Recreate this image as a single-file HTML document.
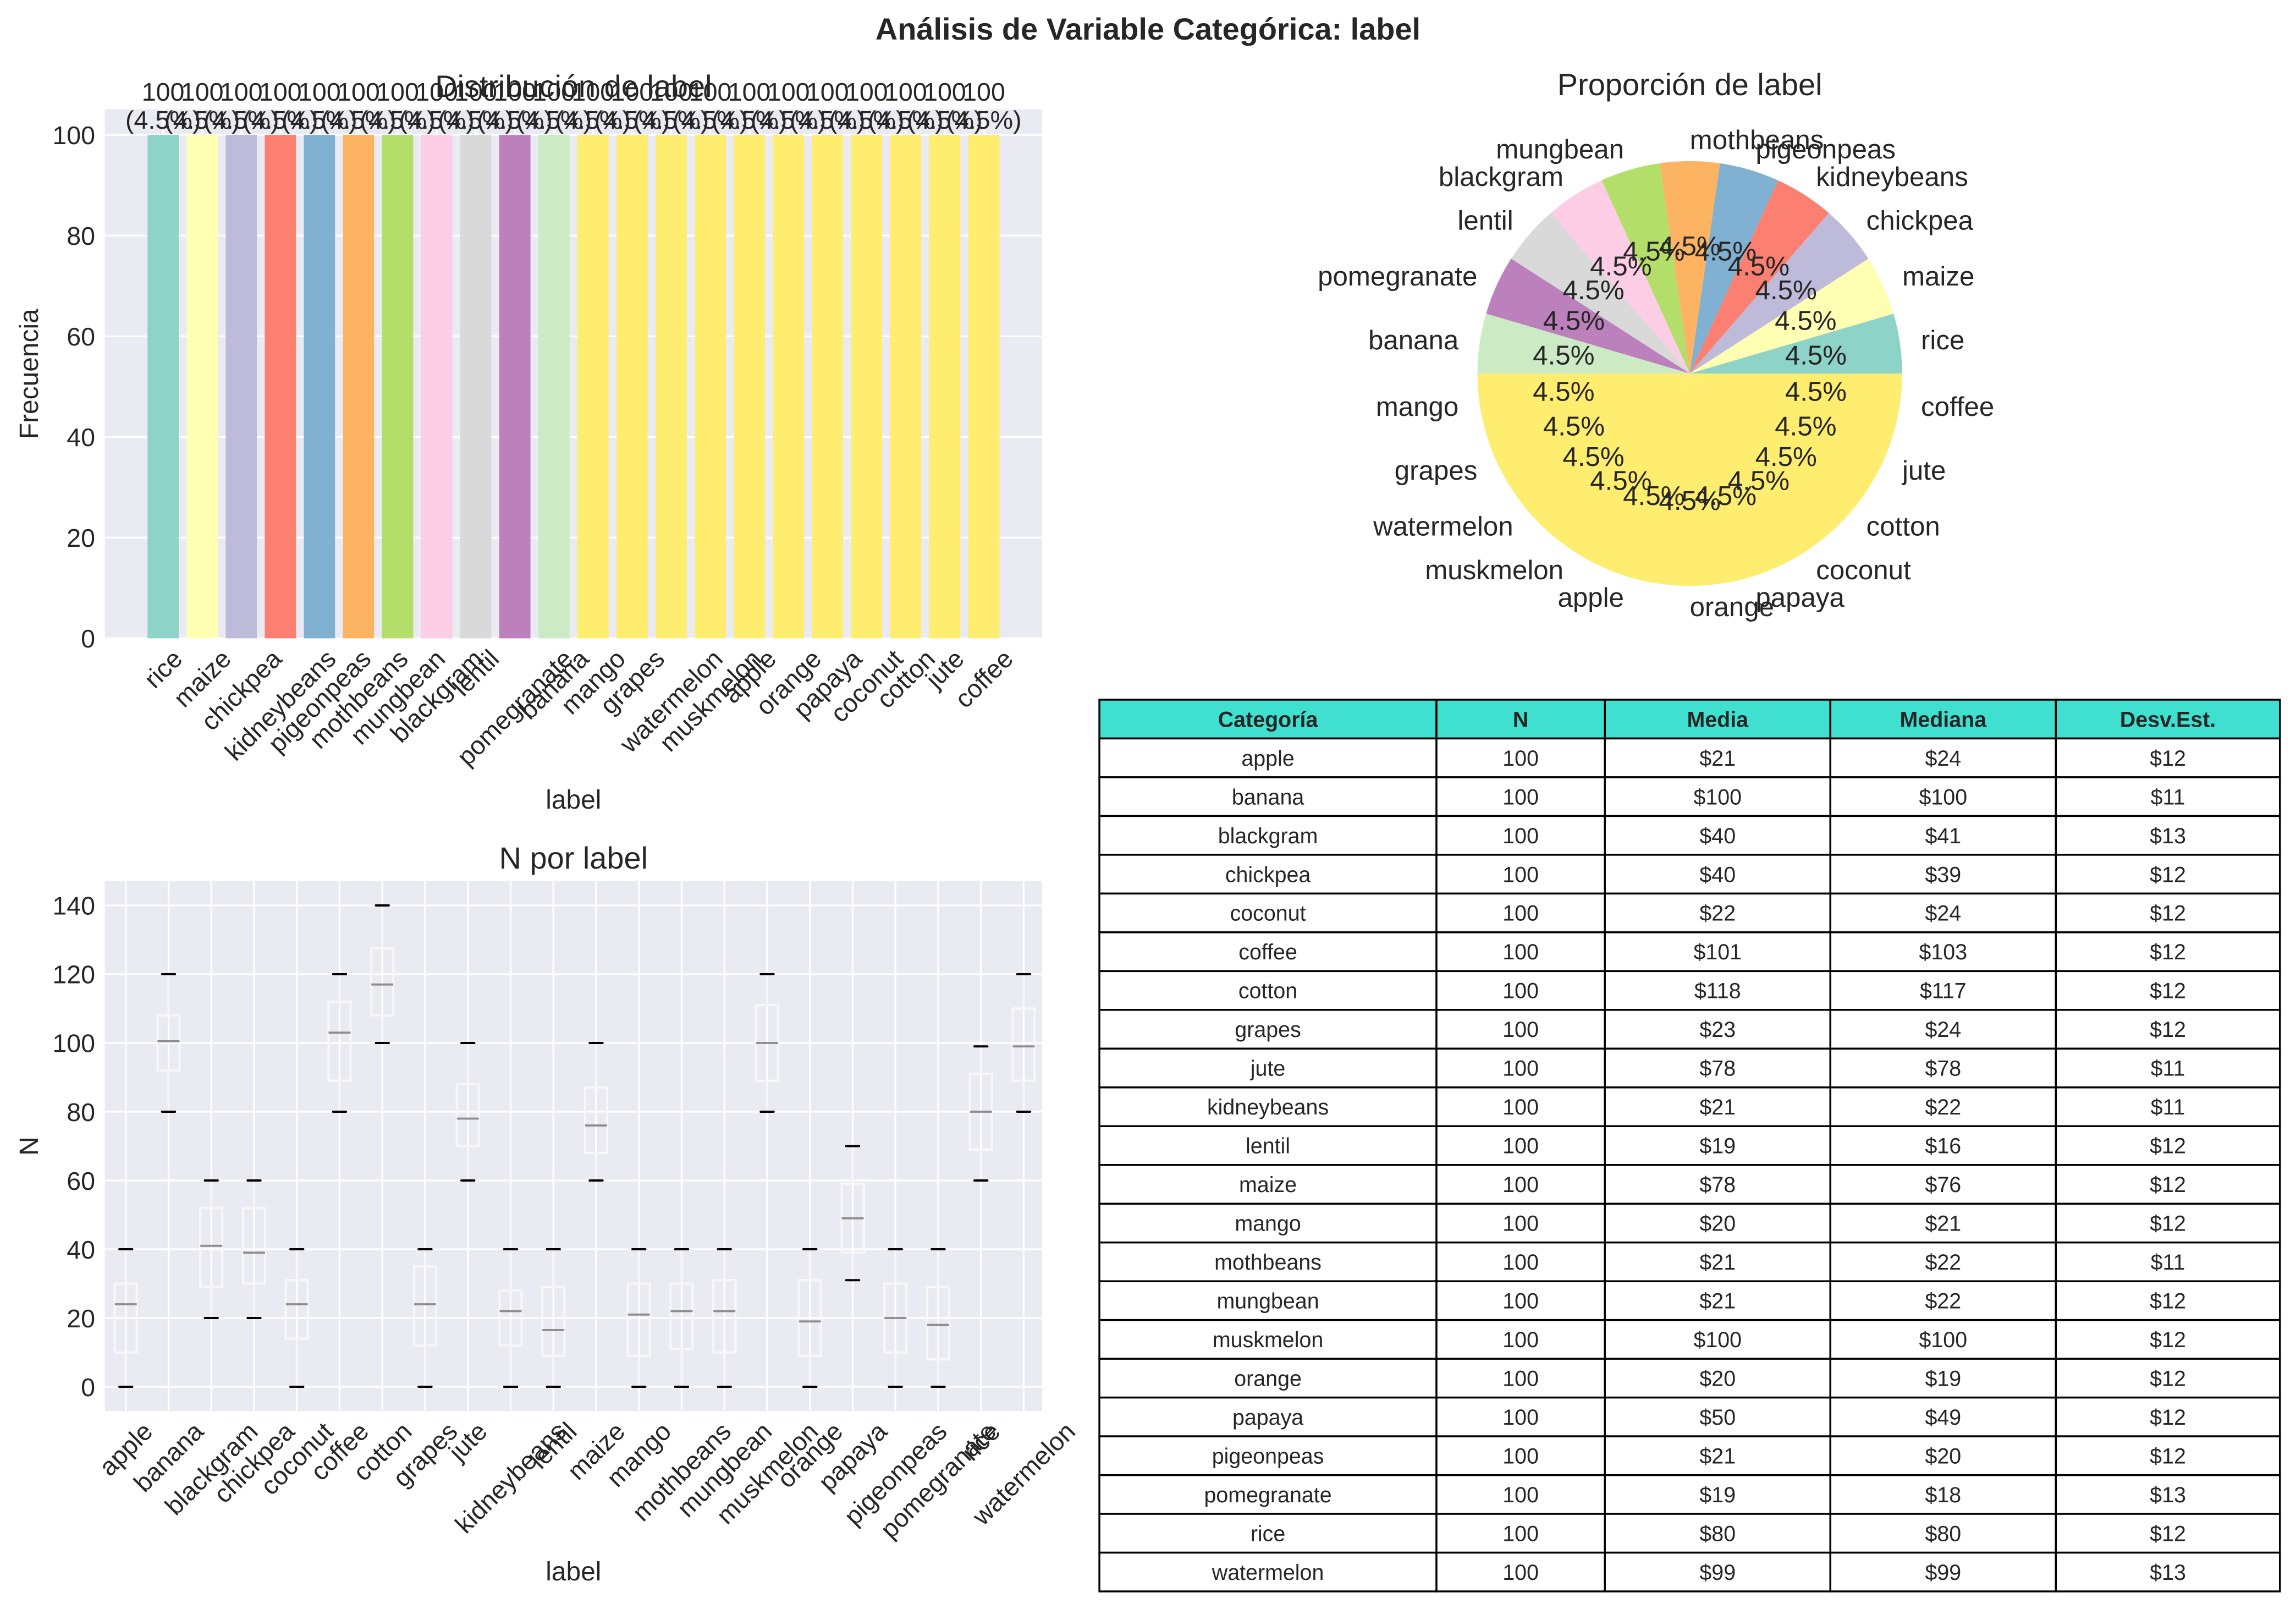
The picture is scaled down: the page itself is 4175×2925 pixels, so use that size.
<!DOCTYPE html>
<html><head><meta charset="utf-8"><style>
html,body{margin:0;padding:0;background:#fff;}
svg{display:block;}
text{font-family:"Liberation Sans",sans-serif;fill:#262626;}
</style></head><body>
<svg id="fig" xmlns="http://www.w3.org/2000/svg" width="4175" height="2925" viewBox="0 0 1568 1098.5">
<rect x="0" y="0" width="1568" height="1098.5" fill="#fff"/>
<text x="784" y="27" text-anchor="middle" font-size="21" font-weight="bold">Análisis de Variable Categórica: label</text>
<g id="bar"></g>
<g id="pie"></g>
<g id="box"></g>
<g id="tbl"></g>
</svg>
<script>
// ---- Bar chart data ----
const barCats = ["rice","maize","chickpea","kidneybeans","pigeonpeas","mothbeans","mungbean","blackgram","lentil","pomegranate","banana","mango","grapes","watermelon","muskmelon","apple","orange","papaya","coconut","cotton","jute","coffee"];
const barCounts = [100,100,100,100,100,100,100,100,100,100,100,100,100,100,100,100,100,100,100,100,100,100];
const barPct = ["4.5%","4.5%","4.5%","4.5%","4.5%","4.5%","4.5%","4.5%","4.5%","4.5%","4.5%","4.5%","4.5%","4.5%","4.5%","4.5%","4.5%","4.5%","4.5%","4.5%","4.5%","4.5%"];
const barTicks = [0,20,40,60,80,100];
const palette = ["#8dd3c7","#ffffb3","#bebada","#fb8072","#80b1d3","#fdb462","#b3de69","#fccde5","#d9d9d9","#bc80bd","#ccebc5","#ffed6f"];
// ---- Pie data (same order) ----
const pieValues = [100,100,100,100,100,100,100,100,100,100,100,100,100,100,100,100,100,100,100,100,100,100];
// ---- Box plot data ----
const boxCats = ["apple","banana","blackgram","chickpea","coconut","coffee","cotton","grapes","jute","kidneybeans","lentil","maize","mango","mothbeans","mungbean","muskmelon","orange","papaya","pigeonpeas","pomegranate","rice","watermelon"];
const boxQ1 = [10,92,29,30,14,89,108,12,70,12,9,68,9,11,10,89,9,39,10,8,69,89];
const boxMed = [24,100.5,41,39,24,103,117,24,78,22,16.5,76,21,22,22,100,19,49,20,18,80,99];
const boxQ3 = [30,108,52,52,31,112,127.5,35,88,28,29,87,30,30,31,111,31,59,30,29,91,110];
const boxLo = [0,80,20,20,0,80,100,0,60,0,0,60,0,0,0,80,0,31,0,0,60,80];
const boxHi = [40,120,60,60,40,120,140,40,100,40,40,100,40,40,40,120,40,70,40,40,99,120];
const boxTicks = [0,20,40,60,80,100,120,140];
// ---- Table data ----
const tblHeaders = ["Categoría","N","Media","Mediana","Desv.Est."];
const tblCats = boxCats;
const tblN = [100,100,100,100,100,100,100,100,100,100,100,100,100,100,100,100,100,100,100,100,100,100];
const tblMean = [21,100,40,40,22,101,118,23,78,21,19,78,20,21,21,100,20,50,21,19,80,99];
const tblMedian = [24,100,41,39,24,103,117,24,78,22,16,76,21,22,22,100,19,49,20,18,80,99];
const tblStd = [12,11,13,12,12,12,12,12,11,11,12,12,12,11,12,12,12,12,12,13,12,13];

const NS = "http://www.w3.org/2000/svg";
function mk(parent, tag, attrs, txt){
  const e = document.createElementNS(NS, tag);
  for (const k in attrs) e.setAttribute(k, attrs[k]);
  if (txt !== undefined) e.textContent = txt;
  parent.appendChild(e);
  return e;
}
function rotLabel(g, txt, x, yTop, fs, name){
  const t = mk(g, "text", {"font-size":fs, "text-anchor":"middle", "dominant-baseline":"central"}, txt);
  
  
  const w = t.getComputedTextLength();
  const h = (w + fs*0.95) * 0.7071;
  t.setAttribute("transform", `translate(${x},${yTop + h/2}) rotate(-45)`);
}

// ===== BAR CHART =====
(function(){
  const g = document.getElementById("bar");
  const L=71.6, R=711.7, T=74.7, B=435.8, ymax=105.06;
  const n = barCats.length;
  const xs = i => 111.4 + i*(671.9-111.4)/(n-1);
  const ys = v => B - v*(B-T)/ymax;
  const bw = 21.3;
  mk(g,"rect",{x:L,y:T,width:R-L,height:B-T,fill:"#eaeaf2"});
  barTicks.forEach(v=>{
    const l = mk(g,"line",{x1:L,x2:R,y1:ys(v),y2:ys(v),stroke:"#fff","stroke-width":1.2});
    
    
    const t = mk(g,"text",{x:65,y:ys(v)+6.3,"text-anchor":"end","font-size":17.5},String(v));
    
    
  });
  barCats.forEach((c,i)=>{
    mk(g,"line",{x1:xs(i),x2:xs(i),y1:T,y2:B,stroke:"#fff","stroke-width":1.2});
  });
  barCats.forEach((c,i)=>{
    const r = mk(g,"rect",{x:xs(i)-bw/2,y:ys(barCounts[i]),width:bw,height:B-ys(barCounts[i]),fill:palette[Math.min(i,11)]});
    
    
  });
  const ti = mk(g,"text",{x:(L+R)/2,y:66,"text-anchor":"middle","font-size":21},"Distribución de label");
  
  
  barCats.forEach((c,i)=>{
    const yb = ys(barCounts[i]);
    const t1 = mk(g,"text",{x:xs(i),y:yb-23.3,"text-anchor":"middle","font-size":17.5},String(barCounts[i]));
    
    
    const t2 = mk(g,"text",{x:xs(i),y:yb-4.3,"text-anchor":"middle","font-size":17.5},"("+barPct[i]+")");
    
    
    rotLabel(g, c, xs(i), B+5, 17.5, 'bar-x-tick-label');
  });
  const xl = mk(g,"text",{x:(L+R)/2,y:552,"text-anchor":"middle","font-size":18},"label");
  
  
  const yl = mk(g,"text",{x:0,y:0,"text-anchor":"middle","font-size":18,transform:`translate(26,${(T+B)/2}) rotate(-90)`},"Frecuencia");
  
  
})();

// ===== PIE CHART =====
(function(){
  const g = document.getElementById("pie");
  const cx=1154, cy=255, r=145;
  const total = pieValues.reduce((a,b)=>a+b,0);
  let a0 = 0;
  const pt = (ang, rr) => [cx + rr*Math.cos(ang*Math.PI/180), cy - rr*Math.sin(ang*Math.PI/180)];
  pieValues.forEach((v,i)=>{
    const span = v/total*360;
    const a1 = a0 + span;
    const p0 = pt(a0,r), p1 = pt(a1,r);
    const large = span>180?1:0;
    const p = mk(g,"path",{d:`M${cx},${cy} L${p0[0]},${p0[1]} A${r},${r} 0 ${large} 0 ${p1[0]},${p1[1]} Z`,fill:palette[Math.min(i,11)]});
    
    
    a0 = a1;
  });
  a0 = 0;
  pieValues.forEach((v,i)=>{
    const span = v/total*360;
    const mid = a0 + span/2;
    const lp = pt(mid, r*1.1);
    const cosm = Math.cos(mid*Math.PI/180);
    const lt = mk(g,"text",{x:lp[0],y:lp[1],"text-anchor":cosm>=0?"start":"end","dominant-baseline":"central","font-size":18.5},barCats[i]);
    
    
    const pp = pt(mid, r*0.6);
    const pc = mk(g,"text",{x:pp[0],y:pp[1],"text-anchor":"middle","dominant-baseline":"central","font-size":18.5},(v/total*100).toFixed(1)+"%");
    
    
    a0 += span;
  });
  const ti = mk(g,"text",{x:cx,y:65,"text-anchor":"middle","font-size":21},"Proporción de label");
  
  
})();

// ===== BOX PLOT =====
(function(){
  const g = document.getElementById("box");
  const L=71.6, R=711.7, T=601.6, B=963.3;
  const y0=946.8, k=2.3475;
  const ys = v => y0 - v*k;
  const n = boxCats.length;
  const xs = i => 85.9 + i*29.2;
  mk(g,"rect",{x:L,y:T,width:R-L,height:B-T,fill:"#eaeaf2"});
  boxTicks.forEach(v=>{
    const l = mk(g,"line",{x1:L,x2:R,y1:ys(v),y2:ys(v),stroke:"#fff","stroke-width":1.2});
    
    
    const t = mk(g,"text",{x:65,y:ys(v)+6.3,"text-anchor":"end","font-size":17.5},String(v));
    
    
  });
  boxCats.forEach((c,i)=>{
    mk(g,"line",{x1:xs(i),x2:xs(i),y1:T,y2:B,stroke:"#fff","stroke-width":1.2});
  });
  const bw=15, cw=8.8;
  boxCats.forEach((c,i)=>{
    const x = xs(i);
    const gg = mk(g,"g",{});
    
    
    mk(gg,"line",{x1:x,x2:x,y1:ys(boxHi[i]),y2:ys(boxQ3[i]),stroke:"#f7f7f7","stroke-width":1.5});
    mk(gg,"line",{x1:x,x2:x,y1:ys(boxQ1[i]),y2:ys(boxLo[i]),stroke:"#f7f7f7","stroke-width":1.5});
    mk(gg,"rect",{x:x-bw/2,y:ys(boxQ3[i]),width:bw,height:ys(boxQ1[i])-ys(boxQ3[i]),fill:"none",stroke:"#f7f7f7","stroke-width":1.6});
    mk(gg,"line",{x1:x-bw/2,x2:x+bw/2,y1:ys(boxMed[i]),y2:ys(boxMed[i]),stroke:"#8c8c8c","stroke-width":1.4});
    mk(gg,"line",{x1:x-cw/2,x2:x+cw/2,y1:ys(boxHi[i]),y2:ys(boxHi[i]),stroke:"#000","stroke-width":1.5,"stroke-linecap":"round"});
    mk(gg,"line",{x1:x-cw/2,x2:x+cw/2,y1:ys(boxLo[i]),y2:ys(boxLo[i]),stroke:"#000","stroke-width":1.5,"stroke-linecap":"round"});
    rotLabel(g, c, x, B+5, 17.5, 'box-x-tick-label');
  });
  const ti = mk(g,"text",{x:(L+R)/2,y:593,"text-anchor":"middle","font-size":21},"N por label");
  
  
  const xl = mk(g,"text",{x:(L+R)/2,y:1079,"text-anchor":"middle","font-size":18},"label");
  
  
  const yl = mk(g,"text",{x:0,y:0,"text-anchor":"middle","font-size":18,transform:`translate(26,${(T+B)/2}) rotate(-90)`},"N");
  
  
})();

// ===== TABLE =====
(function(){
  const g = document.getElementById("tbl");
  const cols = [750.8, 981, 1096, 1250, 1404, 1557];
  const top = 477.7, rh = 26.47;
  const rows = [tblHeaders];
  tblCats.forEach((c,i)=>rows.push([c, String(tblN[i]), "$"+tblMean[i], "$"+tblMedian[i], "$"+tblStd[i]]));
  rows.forEach((row,ri)=>{
    const y = top + ri*rh;
    row.forEach((cell,ci)=>{
      const r = mk(g,"rect",{x:cols[ci],y:y,width:cols[ci+1]-cols[ci],height:rh,fill:ri===0?"#40e0d0":"#fff",stroke:"#000","stroke-width":1.3});
      
      
      const t = mk(g,"text",{x:(cols[ci]+cols[ci+1])/2,y:y+rh/2+5.3,"text-anchor":"middle","font-size":14.8,"font-weight":ri===0?"bold":"normal"},cell);
      
      
    });
  });
})();
</script>
</body></html>
